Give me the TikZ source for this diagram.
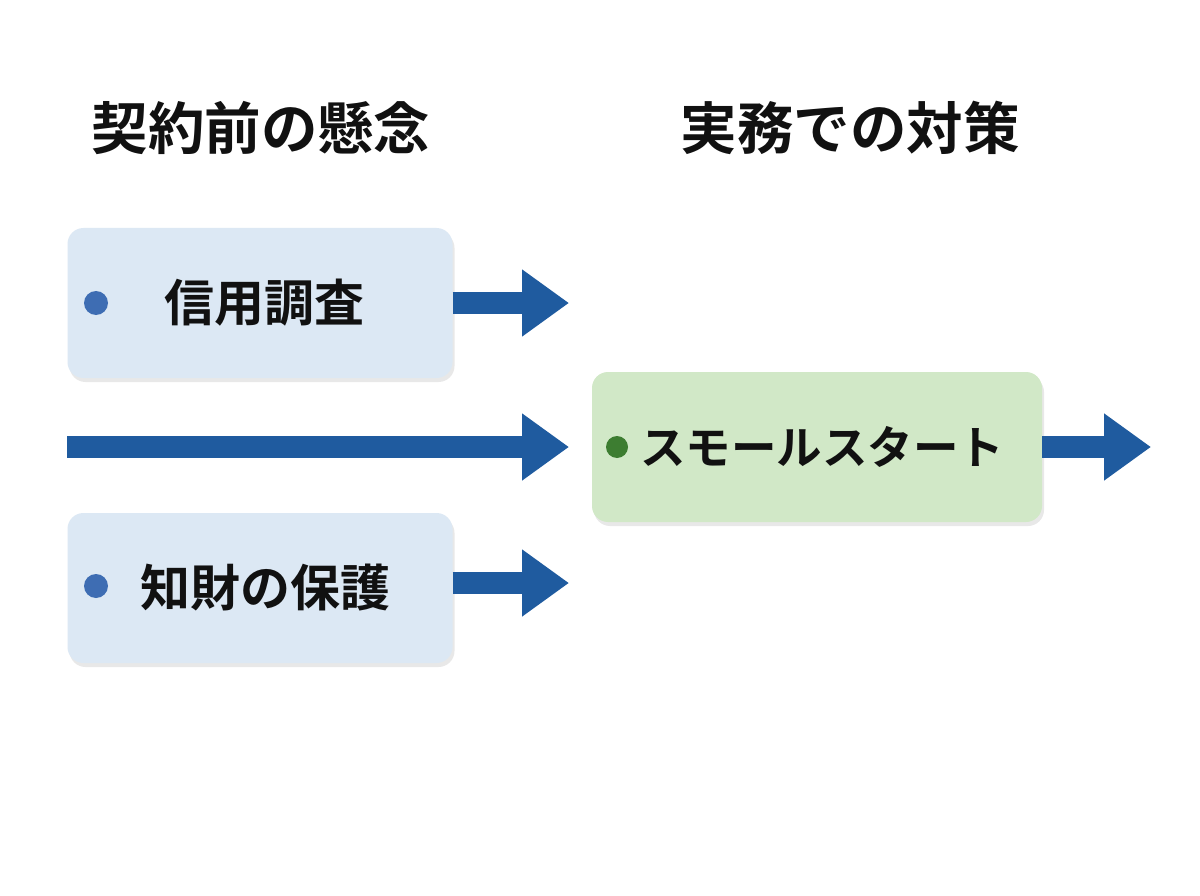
\documentclass[tikz,border=0pt]{standalone}
\usepackage{fontspec}
\newfontfamily\jp{Noto Sans CJK JP}[BoldFont=* Bold]
\usetikzlibrary{arrows.meta,shadows}
\definecolor{boxblue}{HTML}{DCE8F4}
\definecolor{boxgreen}{HTML}{D1E8C7}
\definecolor{arrowblue}{HTML}{1F5B9F}
\definecolor{dotblue}{HTML}{3E6DB3}
\definecolor{dotgreen}{HTML}{3D7D31}
\definecolor{ink}{HTML}{111111}
\tikzset{
  card/.style={rounded corners=16pt, minimum height=150pt, inner sep=0pt,
    text=ink, font=\jp\bfseries\fontsize{50}{60}\selectfont,
    drop shadow={opacity=0.18, shadow xshift=2pt, shadow yshift=-4pt}},
  bluecard/.style={card, fill=boxblue, minimum width=385pt},
  greencard/.style={card, fill=boxgreen, minimum width=450pt,
    font=\jp\bfseries\fontsize{45.5}{55}\selectfont},
  bullet/.style={circle, inner sep=0pt, minimum size=24pt},
  heading/.style={text=ink, font=\jp\bfseries\fontsize{56.5}{68}\selectfont},
  flow/.style={draw=arrowblue, line width=22pt, line cap=butt,
    -{Triangle[width=64pt,length=47pt]}}
}
\begin{document}
\begin{tikzpicture}[x=1pt,y=-1pt]
\fill[white] (0,0) rectangle (1200,896);
\useasboundingbox (0,0) rectangle (1200,896);

\node[heading] (h1) at (261,128) {契約前の懸念};
\node[heading] (h2) at (850,128) {実務での対策};

\node[bluecard] (b1) at (260,303) {\hspace*{8pt}信用調査};
\node[bullet, fill=dotblue] (d1) at (96,303) {};

\node[bluecard] (b3) at (260,588) {\hspace*{10pt}知財の保護};
\node[bullet, fill=dotblue] (d3) at (96,586) {};

\node[greencard] (g) at (817,447) {\hspace*{10pt}スモールスタート};
\node[bullet, fill=dotgreen, minimum size=22pt] (dg) at (617,447) {};

\coordinate (e1) at (569,303);
\coordinate (s2) at (67,447);
\coordinate (e2) at (569,447);
\coordinate (e3) at (569,583);
\coordinate (eg) at (1151,447);

\draw[flow] (b1.east |- e1) -- (e1);
\draw[flow] (s2) -- (e2);
\draw[flow] (b3.east |- e3) -- (e3);
\draw[flow] (g.east) -- (eg);
\end{tikzpicture}
\end{document}
